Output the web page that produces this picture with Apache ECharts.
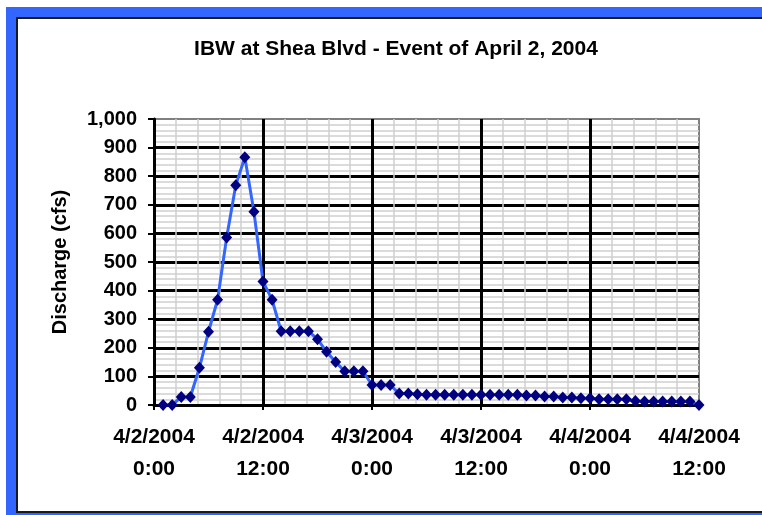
<!DOCTYPE html>
<html>
<head>
<meta charset="utf-8">
<script src="https://cdn.jsdelivr.net/npm/echarts@6/dist/echarts.min.js"></script>
<style>
  html, body { margin: 0; padding: 0; background: #fff; }
  .page { position: relative; width: 762px; height: 515px; overflow: hidden; }
  .blue { position: absolute; left: 6px; top: 7px; width: 800px; height: 508px; background: #3366ff; }
  .inner { position: absolute; left: 16px; top: 17px; width: 800px; height: 492px;
           background: #fff; border-left: 2px solid #1a1a1a; border-top: 2px solid #1a1a1a;
           border-bottom: 2px solid #1a1a1a; }
  #chart { position: absolute; left: 0; top: 0; width: 762px; height: 515px; }
</style>
</head>
<body>
<div class="page">
  <div class="blue"></div>
  <div class="inner"></div>
  <div id="chart"></div>
</div>
<script>
// hours after 4/2/2004 0:00
const hours = [1, 2, 3, 4, 5, 6, 7, 8, 9, 10, 11, 12, 13, 14, 15, 16, 17, 18, 19, 20,
  21, 22, 23, 24, 25, 26, 27, 28, 29, 30, 31, 32, 33, 34, 35, 36, 37, 38, 39, 40,
  41, 42, 43, 44, 45, 46, 47, 48, 49, 50, 51, 52, 53, 54, 55, 56, 57, 58, 59, 60]
// discharge (cfs)
const discharge = [0, 0, 28, 28, 130, 256, 368, 586, 768, 866, 676, 432, 368, 258, 258, 258, 258, 230, 186, 150,
  118, 118, 118, 70, 70, 70, 40, 40, 38, 36, 36, 36, 36, 36, 36, 36, 36, 36, 36, 36,
  33, 33, 30, 30, 26, 26, 24, 24, 20, 20, 20, 20, 14, 12, 12, 12, 12, 12, 12, 0]
const tickLabels = ['4/2/2004\n0:00', '4/2/2004\n12:00', '4/3/2004\n0:00',
  '4/3/2004\n12:00', '4/4/2004\n0:00', '4/4/2004\n12:00']

const font = 'Liberation Sans, Arial, sans-serif'
const myChart = echarts.init(document.getElementById('chart'))
myChart.setOption({
  animation: false,
  title: {
    text: 'IBW at Shea Blvd - Event of April 2, 2004',
    left: 391,
    textAlign: 'center',
    top: 34,
    textStyle: { fontFamily: font, fontWeight: 'bold', fontSize: 21, color: '#000' }
  },
  grid: {
    left: 154, top: 119, right: 63, bottom: 110,
    show: true, backgroundColor: '#fff', borderColor: '#808080', borderWidth: 2
  },
  xAxis: {
    type: 'value',
    min: 0, max: 60, interval: 12,
    axisLine: { lineStyle: { color: '#000', width: 3 } },
    axisTick: { length: 5, lineStyle: { color: '#000', width: 2 } },
    axisLabel: {
      formatter: v => tickLabels[v / 12],
      fontFamily: font, fontWeight: 'bold', fontSize: 21, color: '#000',
      lineHeight: 32, margin: 16, showMaxLabel: true
    },
    splitLine: { show: true, showMaxLine: false, showMinLine: false, lineStyle: { color: '#000', width: 3 } },
    minorTick: { show: false, splitNumber: 5 },
    minorSplitLine: { show: true, lineStyle: { color: '#cfcfcf', width: 1.5 } }
  },
  yAxis: {
    type: 'value',
    min: 0, max: 1000, interval: 100,
    name: 'Discharge (cfs)',
    nameLocation: 'middle',
    nameGap: 84,
    nameTextStyle: { fontFamily: font, fontWeight: 'bold', fontSize: 20, color: '#000' },
    axisLine: { show: true, lineStyle: { color: '#000', width: 3 } },
    axisTick: { show: true, length: 6, lineStyle: { color: '#000', width: 2 } },
    axisLabel: {
      formatter: v => v.toLocaleString('en-US'),
      fontFamily: font, fontWeight: 'bold', fontSize: 20, color: '#000', margin: 17
    },
    splitLine: { show: true, showMaxLine: false, showMinLine: false, lineStyle: { color: '#000', width: 3 } },
    minorTick: { show: false, splitNumber: 5 },
    minorSplitLine: { show: true, lineStyle: { color: '#cfcfcf', width: 1.5 } }
  },
  series: [{
    type: 'line',
    data: hours.map((h, i) => [h, discharge[i]]),
    symbol: 'diamond',
    symbolSize: [11, 12],
    itemStyle: { color: '#000080' },
    lineStyle: { color: '#3366ff', width: 3 },
    z: 5
  }]
})
</script>
</body>
</html>
